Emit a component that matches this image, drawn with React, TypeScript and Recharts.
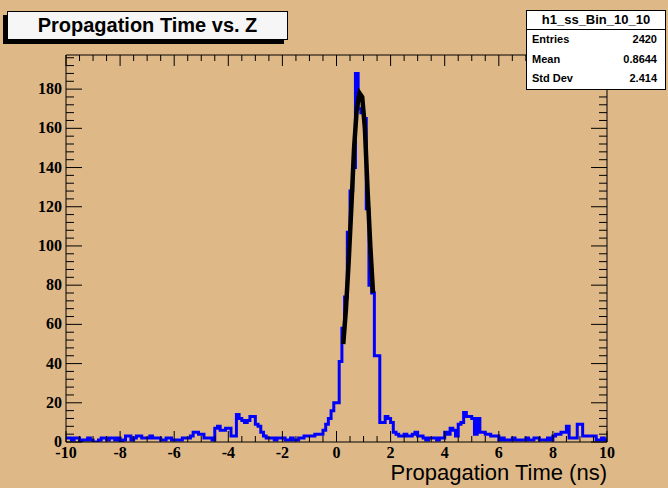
import React from "react";
import { ComposedChart, Line, XAxis, YAxis } from "recharts";

// histogram h1_ss_Bin_10_10: 200 bins of 0.1 ns from -10 to 10
const binStart = -10;
const binWidth = 0.1;
const counts = [
  2, 2, 1, 2, 2, 0, 1, 1, 2, 1,
  0, 0, 1, 2, 2, 1, 2, 2, 1, 2,
  0, 1, 3, 3, 1, 2, 3, 3, 2, 2,
  2, 3, 2, 2, 2, 1, 1, 2, 2, 1,
  1, 1, 1, 2, 2, 2, 3, 5, 5, 4,
  4, 2, 2, 2, 1, 7, 8, 6, 6, 7,
  7, 3, 3, 14, 12, 11, 10, 11, 13, 13,
  9, 8, 5, 3, 2, 2, 2, 1, 2, 2,
  2, 1, 1, 2, 1, 1, 2, 2, 3, 3,
  3, 3, 4, 4, 4, 6, 9, 12, 16, 20,
  20, 41, 58, 74, 107, 128, 140, 188, 170, 168,
  165, 119, 80, 76, 44, 44, 10, 10, 13, 12,
  10, 5, 4, 3, 3, 4, 3, 3, 4, 5,
  3, 3, 2, 1, 2, 2, 2, 1, 2, 2,
  5, 4, 7, 6, 3, 9, 10, 15, 13, 13,
  12, 4, 12, 5, 5, 4, 4, 3, 3, 3,
  1, 2, 1, 1, 1, 2, 1, 1, 1, 1,
  2, 1, 1, 2, 2, 1, 1, 1, 2, 1,
  3, 4, 4, 5, 5, 8, 2, 2, 2, 9,
  9, 3, 3, 3, 3, 3, 1, 1, 2, 1,
];

// gaussian fit curve
const fitX = [0.25, 0.35, 0.45, 0.55, 0.65, 0.75, 0.85, 0.95, 1.05, 1.15, 1.25, 1.35];
const fitY = [50, 68, 92, 120, 150, 170, 178, 176, 160, 128, 100, 76];

const xMajor = [-10, -8, -6, -4, -2, 0, 2, 4, 6, 8, 10];
const yMajor = [0, 20, 40, 60, 80, 100, 120, 140, 160, 180];
const yMax = 197.4;

const statsName = "h1_ss_Bin_10_10";
const statsRows = [
  ["Entries", "2420"],
  ["Mean", "0.8644"],
  ["Std Dev", "2.414"],
];

const xTicks: number[] = [];
for (let v = -10; v <= 10.001; v += 0.5) xTicks.push(Math.round(v * 10) / 10);
const yTicks: number[] = [];
for (let v = 0; v <= 196; v += 4) yTicks.push(v);

const histData = counts.map((n, i) => ({ t: Math.round((binStart + i * binWidth) * 10) / 10, n }));
histData.push({ t: 10, n: counts[counts.length - 1] });
const fitData = fitX.map((t, i) => ({ t, f: fitY[i] }));

const BG = "#deb887";
const serif = "'Liberation Serif', 'DejaVu Serif', serif";
const sans = "'Liberation Sans', Arial, sans-serif";

const isX = (v: number) => xMajor.includes(v);
const isY = (v: number) => yMajor.includes(v);

function BottomTick(props: any) {
  const { x, y, payload } = props;
  const v = payload.value;
  const major = isX(v);
  return (
    <g>
      <line x1={x} x2={x} y1={y} y2={y - (major ? 11 : 6)} stroke="#000" />
      {major && (
        <text x={x} y={y + 16} textAnchor="middle" fontFamily={serif} fontWeight="bold" fontSize={16} fill="#000">
          {v}
        </text>
      )}
    </g>
  );
}

function TopTick(props: any) {
  const { x, y, payload } = props;
  return <line x1={x} x2={x} y1={y} y2={y + (isX(payload.value) ? 11 : 6)} stroke="#000" />;
}

function LeftTick(props: any) {
  const { x, y, payload } = props;
  const v = payload.value;
  const major = isY(v);
  return (
    <g>
      <line x1={x} x2={x + (major ? 16 : 8)} y1={y} y2={y} stroke="#000" />
      {major && (
        <text x={x - 4} y={y + 5} textAnchor="end" fontFamily={serif} fontWeight="bold" fontSize={16} fill="#000">
          {v}
        </text>
      )}
    </g>
  );
}

function RightTick(props: any) {
  const { x, y, payload } = props;
  return <line x1={x} x2={x - (isY(payload.value) ? 16 : 8)} y1={y} y2={y} stroke="#000" />;
}

export default function App() {
  return (
    <div style={{ position: "absolute", left: 0, top: 0, width: 668, height: 488, background: BG, overflow: "hidden" }}>
      <ComposedChart width={668} height={488} data={histData} margin={{ top: 54, right: 60, bottom: 45, left: 65 }}>
        <XAxis
          xAxisId="b"
          dataKey="t"
          type="number"
          domain={[-10, 10]}
          allowDataOverflow
          ticks={xTicks}
          interval={0}
          height={1}
          tickSize={0}
          tickMargin={0}
          tickLine={false}
          axisLine={{ stroke: "#000" }}
          tick={(p: any) => <BottomTick {...p} />}
        />
        <XAxis
          xAxisId="t"
          orientation="top"
          dataKey="t"
          type="number"
          domain={[-10, 10]}
          allowDataOverflow
          ticks={xTicks}
          interval={0}
          height={1}
          tickSize={0}
          tickMargin={0}
          tickLine={false}
          axisLine={{ stroke: "#000" }}
          tick={(p: any) => <TopTick {...p} />}
        />
        <YAxis
          yAxisId="l"
          type="number"
          domain={[0, yMax]}
          allowDataOverflow
          ticks={yTicks}
          interval={0}
          width={1}
          tickSize={0}
          tickMargin={0}
          tickLine={false}
          axisLine={{ stroke: "#000" }}
          tick={(p: any) => <LeftTick {...p} />}
        />
        <YAxis
          yAxisId="r"
          orientation="right"
          type="number"
          domain={[0, yMax]}
          allowDataOverflow
          ticks={yTicks}
          interval={0}
          width={1}
          tickSize={0}
          tickMargin={0}
          tickLine={false}
          axisLine={{ stroke: "#000" }}
          tick={(p: any) => <RightTick {...p} />}
        />
        <Line
          xAxisId="b"
          yAxisId="l"
          data={histData}
          dataKey="n"
          type="stepAfter"
          stroke="#0000ff"
          strokeWidth={3}
          dot={false}
          isAnimationActive={false}
        />
        <Line
          xAxisId="b"
          yAxisId="l"
          data={fitData}
          dataKey="f"
          type="linear"
          stroke="#000"
          strokeWidth={4.5}
          dot={false}
          isAnimationActive={false}
        />
      </ComposedChart>

      <div
        style={{
          position: "absolute",
          left: 7,
          top: 11,
          width: 279,
          height: 27,
          background: "#f6f6f6",
          border: "1px solid #000",
          boxShadow: "-4px 4px 0 #000",
          fontFamily: sans,
          fontWeight: "bold",
          fontSize: 20,
          lineHeight: "27px",
          textAlign: "center",
        }}
      >
        Propagation Time vs. Z
      </div>

      <div
        style={{
          position: "absolute",
          left: 526,
          top: 10,
          width: 138,
          height: 78,
          background: "#fff",
          border: "1px solid #000",
          fontFamily: sans,
          fontWeight: "bold",
        }}
      >
        <div style={{ height: 18, lineHeight: "18px", fontSize: 13, textAlign: "center", borderBottom: "1px solid #000" }}>
          {statsName}
        </div>
        {statsRows.map(([k, v]) => (
          <div key={k} style={{ height: 19.5, lineHeight: "19.5px", fontSize: 11, display: "flex", justifyContent: "space-between", padding: "0 8px 0 5px" }}>
            <span>{k}</span>
            <span>{v}</span>
          </div>
        ))}
      </div>

      <div
        style={{
          position: "absolute",
          right: 61,
          top: 461,
          fontFamily: sans,
          fontSize: 22,
          lineHeight: "24px",
          color: "#000",
        }}
      >
        Propagation Time (ns)
      </div>
    </div>
  );
}
